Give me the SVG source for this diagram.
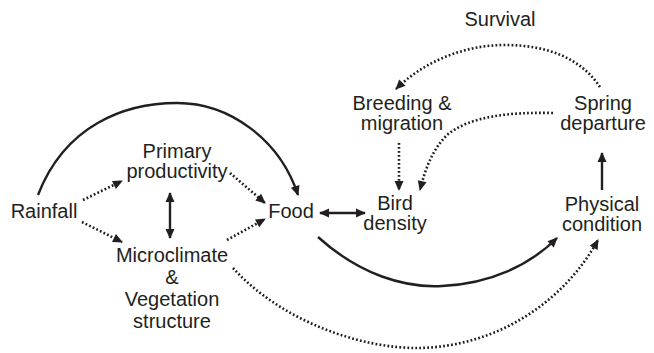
<svg xmlns="http://www.w3.org/2000/svg" width="654" height="353" viewBox="0 0 654 353">
<style>
text{font-family:"Liberation Sans",Arial,Helvetica,sans-serif;font-size:20px;fill:#231f20;text-anchor:middle}
.s{fill:none;stroke:#231f20;stroke-width:2.4}
.d{fill:none;stroke:#231f20;stroke-width:2.6;stroke-dasharray:1.8 2.2}
</style>
<defs>
<marker id="a" markerUnits="userSpaceOnUse" viewBox="0 0 10 10" refX="9" refY="5" markerWidth="11" markerHeight="10" orient="auto-start-reverse">
<path d="M0,0.5 L10,5 L0,9.5 Z" fill="#231f20"/>
</marker>
</defs>
<rect width="654" height="353" fill="#fff"/>
<g id="connectors">
<path class="s" d="M38,195 C65,125 125,103 177,103 C230,103 280,140 298,195" marker-end="url(#a)"/>
<path class="d" d="M83,200 L122,181" marker-end="url(#a)"/>
<path class="d" d="M82,222 L122,242" marker-end="url(#a)"/>
<path class="d" d="M230,173 L265,203" marker-end="url(#a)"/>
<path class="d" d="M227,240 L265,219" marker-end="url(#a)"/>
<path class="s" d="M170,193 L170,238" marker-start="url(#a)" marker-end="url(#a)"/>
<path class="s" d="M320,213 L365,213" marker-start="url(#a)" marker-end="url(#a)"/>
<path class="s" d="M318,237 C360,275 405,288 442,286 C490,284 530,265 557,238" marker-end="url(#a)"/>
<path class="d" d="M233,268 C280,320 360,349 420,348 C500,346 565,300 598,240" marker-end="url(#a)"/>
<path class="s" d="M602,190 L602,153" marker-end="url(#a)"/>
<path class="d" d="M600,87 C580,57 545,45 505,45 C460,45 420,65 396,89" marker-end="url(#a)"/>
<path class="d" d="M553,113 C510,112 470,116 447,135 C432,150 425,170 420,190" marker-end="url(#a)"/>
<path class="d" d="M399,143 L399,190" marker-end="url(#a)"/>
</g>
<g id="rainfall"><text x="44" y="218">Rainfall</text></g>
<g id="primary"><text x="177" y="158">Primary</text><text x="177" y="178">productivity</text></g>
<g id="micro"><text x="172" y="262">Microclimate</text><text x="172" y="284">&amp;</text><text x="172" y="306">Vegetation</text><text x="172" y="328">structure</text></g>
<g id="food"><text x="291" y="218">Food</text></g>
<g id="bird"><text x="395" y="210">Bird</text><text x="395" y="230">density</text></g>
<g id="physical"><text x="602" y="211">Physical</text><text x="602" y="231">condition</text></g>
<g id="spring"><text x="603" y="110">Spring</text><text x="603" y="130">departure</text></g>
<g id="breeding"><text x="402" y="110">Breeding &amp;</text><text x="402" y="130">migration</text></g>
<g id="survival"><text x="500" y="26">Survival</text></g>
</svg>
